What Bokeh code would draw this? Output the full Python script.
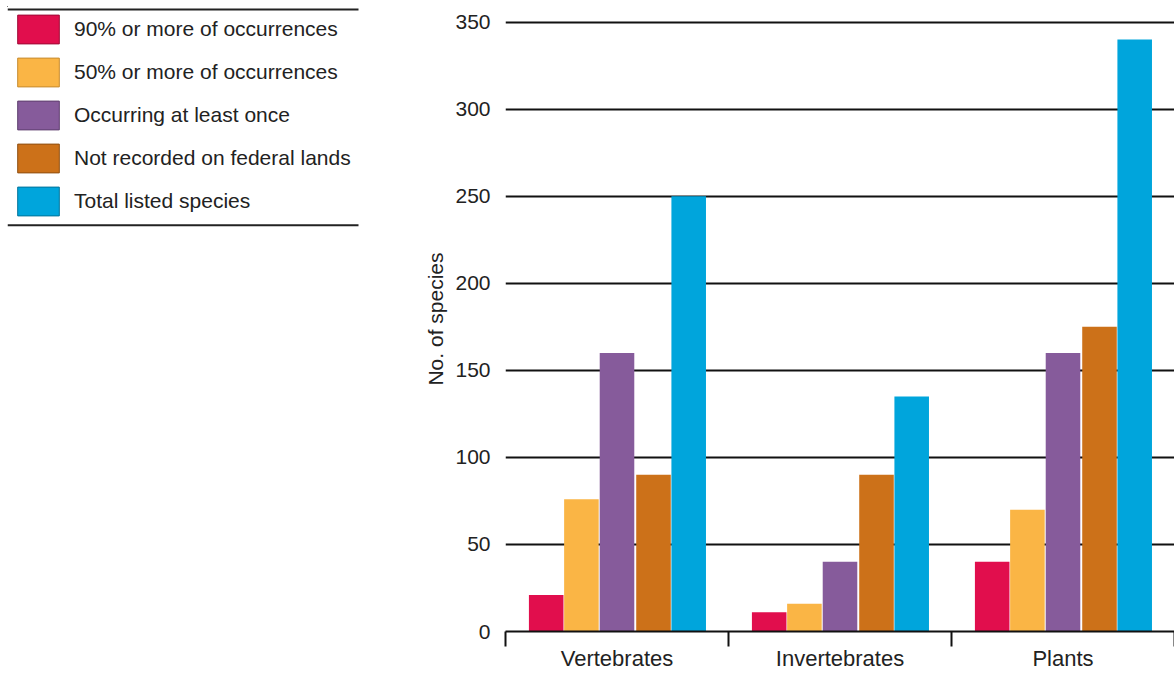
from bokeh.plotting import figure
from bokeh.models import Range1d, FixedTicker, Legend, LegendItem, ColumnDataSource
from bokeh.layouts import row
from bokeh.embed import file_html
from bokeh.resources import INLINE

# ---------------- data ----------------
categories = ["Vertebrates", "Invertebrates", "Plants"]
series_names = [
    "90% or more of occurrences",
    "50% or more of occurrences",
    "Occurring at least once",
    "Not recorded on federal lands",
    "Total listed species",
]
pct90 = [21, 11, 40]
pct50 = [76, 16, 70]
at_least_once = [160, 40, 160]
not_recorded = [90, 90, 175]
total_listed = [250, 135, 340]
y_ticks = [0, 50, 100, 150, 200, 250, 300, 350]
y_label = "No. of species"

series_values = [pct90, pct50, at_least_once, not_recorded, total_listed]

# ---------------- style ----------------
colors = ["#E10E4D", "#FAB545", "#865B9B", "#CC7119", "#00A5DC"]
edge_colors = ["#9E0A36", "#C68A2E", "#5E3F6E", "#8F4F12", "#00739A"]
offsets = [-0.3175, -0.1596, 0.0, 0.1637, 0.3215]
bar_width = 0.155
FONT = "Liberation Sans"
TEXT = "#222222"
INK = "#111111"
TOP, BOTTOM = 6, 41          # frame borders shared by both panels
Y_END = 359.0

# ---------------- main chart ----------------
p = figure(width=811, height=673,
           x_range=Range1d(0, len(categories)), y_range=Range1d(0, Y_END),
           output_backend="svg", toolbar_location=None,
           min_border_left=142, min_border_right=0,
           min_border_top=TOP, min_border_bottom=BOTTOM)
p.outline_line_color = None
p.background_fill_color = "white"
p.border_fill_color = "white"

for vals, col, off in zip(series_values, colors, offsets):
    src = ColumnDataSource(dict(
        x=[i + 0.5 + off for i in range(len(categories))],
        top=vals,
    ))
    p.vbar(x="x", top="top", width=bar_width, bottom=0, source=src,
           fill_color=col, line_color=None)

# x axis: category names at centres, separators at boundaries
centres = [i + 0.5 for i in range(len(categories))]
p.xaxis.ticker = FixedTicker(ticks=centres,
                             minor_ticks=list(range(len(categories) + 1)))
p.xaxis.major_label_overrides = {c: name for c, name in zip(centres, categories)}
p.xaxis.major_tick_line_color = None
p.xaxis.major_tick_out = 0
p.xaxis.major_tick_in = 0
p.xaxis.minor_tick_line_color = INK
p.xaxis.minor_tick_line_width = 2
p.xaxis.minor_tick_in = 0
p.xaxis.minor_tick_out = 15
p.xaxis.axis_line_color = INK
p.xaxis.axis_line_width = 2
p.xaxis.major_label_text_font = FONT
p.xaxis.major_label_text_font_size = "22px"
p.xaxis.major_label_text_color = TEXT
p.xaxis.major_label_standoff = -1

# y axis
p.yaxis.ticker = FixedTicker(ticks=y_ticks)
p.yaxis.axis_line_color = None
p.yaxis.major_tick_line_color = None
p.yaxis.minor_tick_line_color = None
p.yaxis.major_tick_out = 0
p.yaxis.major_tick_in = 0
p.yaxis.major_label_standoff = 15
p.yaxis.major_label_text_font = FONT
p.yaxis.major_label_text_font_size = "21px"
p.yaxis.major_label_text_color = TEXT
p.yaxis.axis_label = y_label
p.yaxis.axis_label_text_font = FONT
p.yaxis.axis_label_text_font_size = "21px"
p.yaxis.axis_label_text_font_style = "normal"
p.yaxis.axis_label_text_color = TEXT
p.yaxis.axis_label_standoff = 5

p.xgrid.visible = False
p.ygrid.ticker = FixedTicker(ticks=y_ticks)
p.ygrid.grid_line_color = INK
p.ygrid.grid_line_width = 2
p.ygrid.grid_line_alpha = 1.0

# ---------------- legend panel ----------------
lf = figure(width=363, height=673,
            x_range=Range1d(7, 363), y_range=Range1d(673 - BOTTOM, TOP),
            output_backend="svg", toolbar_location=None,
            min_border=0, min_border_left=7, min_border_right=0,
            min_border_top=TOP, min_border_bottom=BOTTOM)
lf.axis.visible = False
lf.grid.visible = False
lf.outline_line_color = None

# rules above and below the legend
lf.segment(x0=[7, 7], y0=[9, 225], x1=[358, 358], y1=[9, 225],
           line_color="#222222", line_width=2)

items = []
for name, col, ecol in zip(series_names, colors, edge_colors):
    # one off-screen bar per series so that the legend has a glyph to draw
    r = lf.vbar(x=[-1000], top=[-1000], bottom=[-1001], width=1,
                fill_color=col, line_color=ecol)
    items.append(LegendItem(label=name, renderers=[r]))

legend = Legend(items=items, location="top_left", margin=5, padding=0,
                spacing=7, glyph_width=52, glyph_height=36, label_height=36,
                label_standoff=10, label_text_font=FONT,
                label_text_font_size="21px", label_text_color=TEXT,
                border_line_color=None, background_fill_alpha=0)
lf.add_layout(legend)

layout = row(lf, p)
open("out.html", "w").write(file_html(layout, INLINE))
